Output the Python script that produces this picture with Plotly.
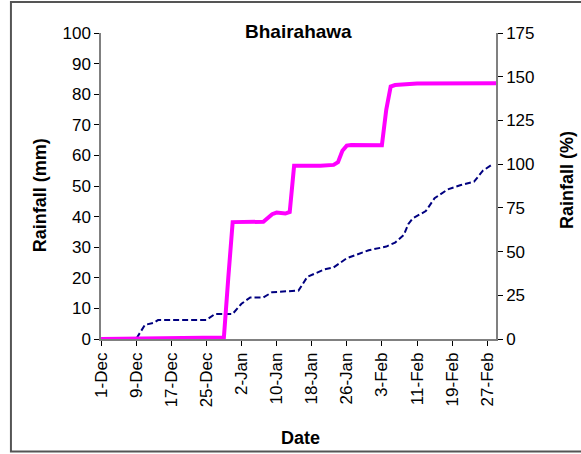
import plotly.graph_objects as go

# Actual cumulative rainfall (magenta) - dates and mm
actual_dates = ["2007-12-01", "2007-12-29", "2007-12-30", "2007-12-31", "2008-01-07",
                "2008-01-09", "2008-01-10", "2008-01-12", "2008-01-13", "2008-01-14",
                "2008-01-20", "2008-01-23", "2008-01-24", "2008-01-25", "2008-01-26",
                "2008-01-27", "2008-02-03", "2008-02-04", "2008-02-05", "2008-02-06",
                "2008-02-11", "2008-02-29"]
actual_mm = [0, 0.5, 20, 38.2, 38.3,
             40.8, 41.3, 41.0, 41.5, 56.6,
             56.6, 56.9, 57.8, 61.5, 63.2,
             63.4, 63.3, 75.0, 82.5, 83.0,
             83.5, 83.6]

# Normal cumulative rainfall (navy dashed)
normal_dates = ["2007-12-01", "2007-12-09", "2007-12-11", "2007-12-13", "2007-12-14",
                "2007-12-25", "2007-12-27", "2007-12-31", "2008-01-02", "2008-01-04",
                "2008-01-07", "2008-01-09", "2008-01-15", "2008-01-16", "2008-01-17",
                "2008-01-21", "2008-01-23", "2008-01-26", "2008-01-31", "2008-02-04",
                "2008-02-06", "2008-02-08", "2008-02-09", "2008-02-10", "2008-02-13",
                "2008-02-15", "2008-02-18", "2008-02-21", "2008-02-24", "2008-02-26",
                "2008-02-28"]
normal_mm = [0, 0, 4.6, 5.3, 6.2,
             6.2, 8.2, 8.2, 11.5, 13.6,
             13.6, 15.3, 15.8, 18.0, 20.3,
             22.8, 23.4, 26.4, 29.0, 30.2,
             31.5, 34.0, 37.5, 39.4, 41.8,
             46.0, 48.9, 50.3, 51.4, 55.0,
             56.9]

tick_dates = ["2007-12-01", "2007-12-09", "2007-12-17", "2007-12-25", "2008-01-02",
              "2008-01-10", "2008-01-18", "2008-01-26", "2008-02-03", "2008-02-11",
              "2008-02-19", "2008-02-27"]
tick_labels = ["1-Dec", "9-Dec", "17-Dec", "25-Dec", "2-Jan", "10-Jan", "18-Jan",
               "26-Jan", "3-Feb", "11-Feb", "19-Feb", "27-Feb"]

FONT = "Arial, Liberation Sans, sans-serif"
AXC = "#808080"

fig = go.Figure()
fig.add_trace(go.Scatter(x=normal_dates, y=normal_mm, mode="lines",
                         line=dict(color="#000080", width=2, dash="6px,3px"),
                         showlegend=False))
fig.add_trace(go.Scatter(x=actual_dates, y=actual_mm, mode="lines",
                         line=dict(color="#FF00FF", width=4),
                         showlegend=False))
fig.add_trace(go.Scatter(x=[actual_dates[0]], y=[None], yaxis="y2",
                         mode="lines", showlegend=False, hoverinfo="skip"))

fig.update_layout(
    width=581, height=454,
    margin=dict(l=101, r=85, t=33, b=115),
    paper_bgcolor="white", plot_bgcolor="white",
    font=dict(family=FONT, color="black", size=17),
    xaxis=dict(range=["2007-12-01", "2008-02-29"], tickvals=tick_dates,
               ticktext=tick_labels, tickangle=-90, ticks="outside", ticklen=5,
               tickcolor="black", showline=True, linecolor=AXC, linewidth=1.5,
               showgrid=False, zeroline=False, tickfont=dict(size=17)),
    yaxis=dict(range=[0, 100], dtick=10, ticks="outside", ticklen=5,
               tickcolor="black", showline=True, linecolor=AXC, linewidth=1.5,
               showgrid=False, zeroline=False, tickfont=dict(size=17)),
    yaxis2=dict(range=[0, 175], dtick=25, overlaying="y", side="right",
                ticks="outside", ticklen=5, tickcolor="black", showline=True,
                linecolor=AXC, linewidth=1.5, showgrid=False, zeroline=False,
                tickfont=dict(size=17)),
    annotations=[
        dict(text="<b>Bhairahawa</b>", xref="paper", yref="paper", x=0.5, y=1.0065,
             xanchor="center", yanchor="middle", showarrow=False, font=dict(size=19)),
        dict(text="<b>Date</b>", xref="paper", yref="paper", x=0.504, y=-0.324,
             xanchor="center", yanchor="middle", showarrow=False, font=dict(size=18)),
        dict(text="<b>Rainfall (mm)</b>", xref="paper", yref="paper", x=-0.154, y=0.47,
             xanchor="center", yanchor="middle", showarrow=False, textangle=-90,
             font=dict(size=18)),
        dict(text="<b>Rainfall (%)</b>", xref="paper", yref="paper", x=1.18, y=0.52,
             xanchor="center", yanchor="middle", showarrow=False, textangle=-90,
             font=dict(size=18)),
    ],
    shapes=[dict(type="rect", xref="paper", yref="paper", x0=-0.228, x1=1.3,
                 y0=-0.368, y1=1.101, line=dict(color="#555555", width=2),
                 layer="below")],
)

fig.write_html("out.html", config={"displayModeBar": False},
               post_script="document.body.style.margin='0';document.body.style.overflow='hidden';")
